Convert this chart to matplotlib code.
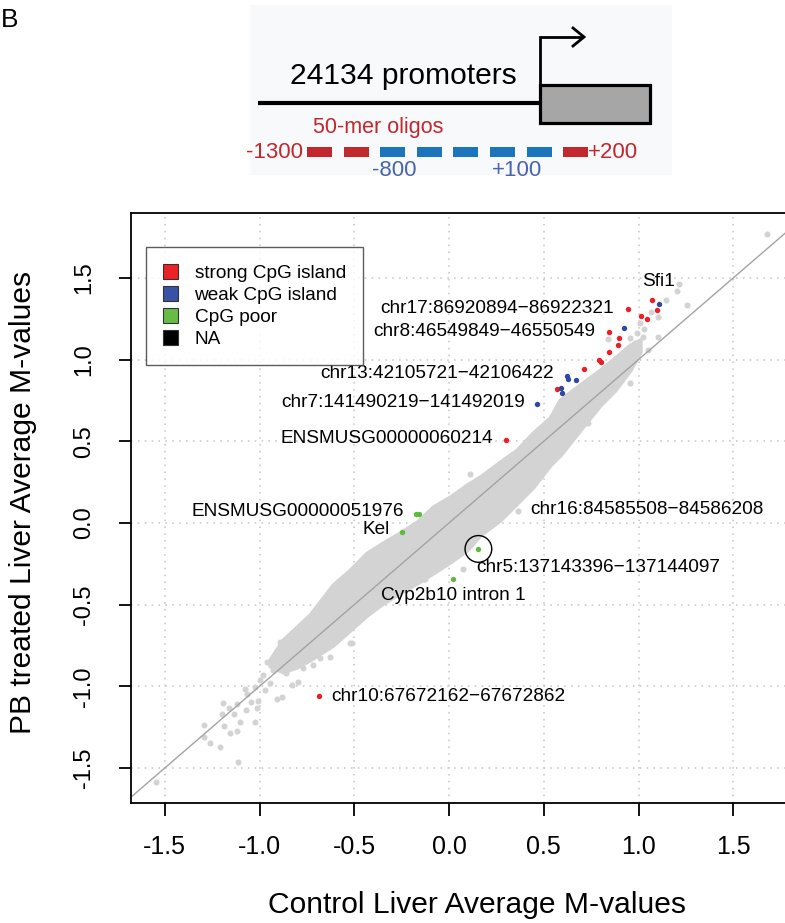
import matplotlib
matplotlib.use("Agg")
import matplotlib.pyplot as plt
from matplotlib.patches import Patch, Rectangle

plt.rcParams["font.family"] = ["Liberation Sans", "DejaVu Sans"]

# dense core of the grey cloud: x, lower and upper edge
band_x = [-0.945, -0.876, -0.802, -0.734, -0.612, -0.522, -0.433, -0.348, -0.259, -0.169, -0.084, 0.005,
          0.095, 0.164, 0.269, 0.359, 0.443, 0.533, 0.586, 0.691, 0.797, 0.876, 0.955, 1.008]
band_lo = [-0.875, -0.912, -0.881, -0.838, -0.747, -0.655, -0.563, -0.490, -0.428, -0.367, -0.306, -0.239,
           -0.165, -0.073, 0.018, 0.122, 0.220, 0.355, 0.416, 0.569, 0.722, 0.814, 0.936, 1.047]
band_hi = [-0.838, -0.716, -0.636, -0.563, -0.379, -0.288, -0.184, -0.122, -0.061, 0.006, 0.098, 0.159,
           0.233, 0.282, 0.373, 0.447, 0.551, 0.643, 0.753, 0.845, 0.936, 1.010, 1.089, 1.120]

# single grey promoters outside the dense core
gray_x = [-1.548, -1.293, -1.293, -1.261, -1.208, -1.186, -1.156, -1.119, -1.115, -1.103, -1.199, -1.191,
          -1.159, -1.133, -1.117, -1.073, -1.024, -1.045, -1.008, -1.076, -1.068, -1.024, -0.971, -0.909,
          -0.881, -0.830, -0.945, -1.012, -0.892, -0.514, -0.719, -0.769, -0.795, -0.628, -0.681, -0.786,
          -0.522, -0.223, -0.137, -0.980, -0.930, -0.960, -0.900, -1.000, -0.860,
          0.023, 0.075, -0.132, -0.127, 0.118, 0.028, 0.366, 0.735, 0.955, 0.902, 0.111,
          1.676, 1.215, 1.201, 1.143, 1.258, 1.066, 1.105, 1.105, 1.049, 1.008, 1.026, 0.841, 0.992,
          0.955, 0.980, 0.930, 0.900, 1.030]
gray_y = [-1.585, -1.312, -1.236, -1.346, -1.373, -1.240, -1.287, -1.271, -1.465, -1.218, -1.167, -1.100,
          -1.134, -1.171, -1.108, -1.144, -1.216, -1.097, -1.087, -1.018, -1.047, -1.006, -1.022, -1.079,
          -1.063, -0.991, -0.981, -1.134, -0.726, -0.736, -0.869, -0.889, -0.971, -0.818, -0.828, -0.671,
          -0.736, -0.379, -0.337, -0.930, -0.900, -0.850, -0.800, -0.960, -0.920,
          -0.171, -0.282, -0.341, -0.345, -0.130, -0.165, 0.075, 0.614, 0.855, 0.973, 0.300,
          1.767, 1.463, 1.420, 1.363, 1.332, 1.293, 1.263, 1.140, 1.057, 1.222, 1.140, 1.126, 1.163,
          1.132, 1.100, 1.050, 1.020, 1.190]

strong_x = [1.070, 0.946, 1.011, 1.096, 1.047, 0.843, 0.895, 0.893, 0.846, 0.793, 0.802, 0.711, 0.571, 0.301, -0.686]
strong_y = [1.365, 1.308, 1.269, 1.304, 1.247, 1.167, 1.132, 1.087, 1.048, 0.998, 0.987, 0.942, 0.820, 0.508, -1.059]
weak_x = [1.107, 0.923, 0.621, 0.630, 0.669, 0.591, 0.598, 0.464]
weak_y = [1.340, 1.195, 0.900, 0.883, 0.873, 0.824, 0.796, 0.726]
poor_x = [-0.174, -0.160, -0.250, 0.155, 0.023]
poor_y = [0.055, 0.055, -0.053, -0.159, -0.345]

circled = (0.155, -0.159)

label_text = ["Sfi1", "chr17:86920894\u221286922321", "chr8:46549849\u221246550549",
              "chr13:42105721\u221242106422", "chr7:141490219\u2212141492019", "ENSMUSG00000060214",
              "ENSMUSG00000051976", "Kel", "chr16:84585508\u221284586208",
              "chr5:137143396\u2212137144097", "Cyp2b10 intron 1", "chr10:67672162\u221267672862"]
label_x = [1.103, 0.871, 0.770, 0.554, 0.401, 0.234, -0.237, -0.315, 0.427, 0.142, -0.360, -0.623]
label_y = [1.475, 1.314, 1.171, 0.912, 0.736, 0.518, 0.069, -0.043, 0.080, -0.271, -0.445, -1.063]
label_ha = ["center", "right", "right", "right", "right", "right", "right", "right",
            "left", "left", "left", "left"]

ticks = [-1.5, -1.0, -0.5, 0.0, 0.5, 1.0, 1.5]

legend_names = ["strong CpG island", "weak CpG island", "CpG poor", "NA"]
legend_colors = ["#ED2226", "#3A52A3", "#66BC46", "#000000"]

# promoter sketch: oligo tiles from -1300 to +200 around the TSS
oligo_kind = ["flank", "flank", "core", "core", "core", "core", "core", "flank"]

W, H = 785, 923
fig = plt.figure(figsize=(W / 100, H / 100), dpi=100)

# ---------------- main scatter ----------------
ax = fig.add_axes([131 / W, (H - 803) / H, 659 / W, 590 / H])
ax.set_xlim(-1.678, 1.799)
ax.set_ylim(-1.714, 1.897)
ax.set_xticks(ticks)
ax.set_yticks(ticks)
ax.set_xticklabels([f"{t:.1f}" for t in ticks])
ax.set_yticklabels([f"{t:.1f}" for t in ticks])
for t in ticks:
    ax.axvline(t, color="#C4C4C4", lw=1.1, ls=(0, (1, 3.5)), zorder=0)
    ax.axhline(t, color="#C4C4C4", lw=1.1, ls=(0, (1, 3.5)), zorder=0)

gray = "#D3D3D3"
ax.fill_between(band_x, band_lo, band_hi, color=gray, lw=3, edgecolor=gray, zorder=1)
ax.scatter(gray_x, gray_y, s=19, color=gray, lw=0, zorder=1)
ax.axline((0, 0), slope=1, color="#A3A3A3", lw=1.0, zorder=2)
ax.scatter(strong_x, strong_y, s=15, color="#EE1C24", lw=0, zorder=3)
ax.scatter(weak_x, weak_y, s=15, color="#2E4AA0", lw=0, zorder=3)
ax.scatter(poor_x, poor_y, s=15, color="#5DBB3C", lw=0, zorder=3)
ax.scatter([circled[0]], [circled[1]], s=370, facecolors="none", edgecolors="black", lw=1.0, zorder=4)

for txt, x, y, ha in zip(label_text, label_x, label_y, label_ha):
    ax.text(x, y, txt, ha=ha, va="center", fontsize=13.7, color="black", zorder=5)

for side in ["left", "bottom", "top", "right"]:
    ax.spines[side].set_linewidth(1.3)
ax.tick_params(direction="out", length=9, width=1.3)
ax.tick_params(axis="x", labelsize=18, pad=14)
ax.tick_params(axis="y", labelsize=17, pad=17, labelrotation=90)
for lab in ax.get_yticklabels():
    lab.set_va("center")

handles = [Patch(facecolor=c, edgecolor="#333333", lw=0.8) for c in legend_colors]
leg = ax.legend(handles, legend_names, loc="upper left", bbox_to_anchor=(15 / 659, 1 - 34 / 590),
                borderaxespad=0, fontsize=13.7, frameon=True, fancybox=False,
                handlelength=0.8, handleheight=0.8, handletextpad=0.85, borderpad=0.9,
                labelspacing=0.22)
leg.get_frame().set_edgecolor("#333333")
leg.get_frame().set_linewidth(1.0)

fig.text(477.5 / W, 1 - 905 / H, "Control Liver Average M-values", ha="center", va="center", fontsize=21.6)
fig.text(23 / W, 1 - 502 / H, "PB treated Liver Average M-values", ha="center", va="center",
         rotation=90, fontsize=21.6)

# ---------------- promoter sketch (pixel canvas) ----------------
top = fig.add_axes([0, 1 - 190 / H, 1, 190 / H])
top.set_xlim(0, W)
top.set_ylim(190, 0)
top.axis("off")
top.add_patch(Rectangle((250, 5), 422, 170, facecolor="#F8F9FB", edgecolor="none"))
top.plot([258, 540], [103, 103], color="black", lw=3.0, solid_capstyle="butt")
top.add_patch(Rectangle((540, 85), 110, 38, facecolor="#A6A6A6", edgecolor="black", lw=2.3))
top.plot([540, 540, 582], [85, 37, 37], color="black", lw=2.0, solid_joinstyle="miter")
top.plot([573, 584, 573], [28, 37, 46], color="black", lw=2.0, solid_joinstyle="miter")
top.text(403, 76, "24134 promoters", ha="center", va="center", fontsize=21.6)
top.text(378, 127, "50-mer oligos", ha="center", va="center", fontsize=15.5, color="#C1272D")

tile_w, step, x0 = 25, 36.6, 307
for i, kind in enumerate(oligo_kind):
    c = "#C1272D" if kind == "flank" else "#1C75BC"
    top.add_patch(Rectangle((x0 + i * step, 147), tile_w, 10, facecolor=c, edgecolor="none"))
top.text(x0 - 4, 152, "-1300", ha="right", va="center", fontsize=16, color="#C1272D")
top.text(x0 + 7 * step + tile_w, 152, "+200", ha="left", va="center", fontsize=16, color="#C1272D")
top.text(x0 + 2 * step + tile_w / 2 + 2, 170, "-800", ha="center", va="center", fontsize=16, color="#4A63B0")
top.text(x0 + 6 * step - 10, 170, "+100", ha="center", va="center", fontsize=16, color="#4A63B0")

fig.text(1 / W, 1 - 20 / H, "B", ha="left", va="center", fontsize=19)

fig.savefig("out.png", dpi=100)
